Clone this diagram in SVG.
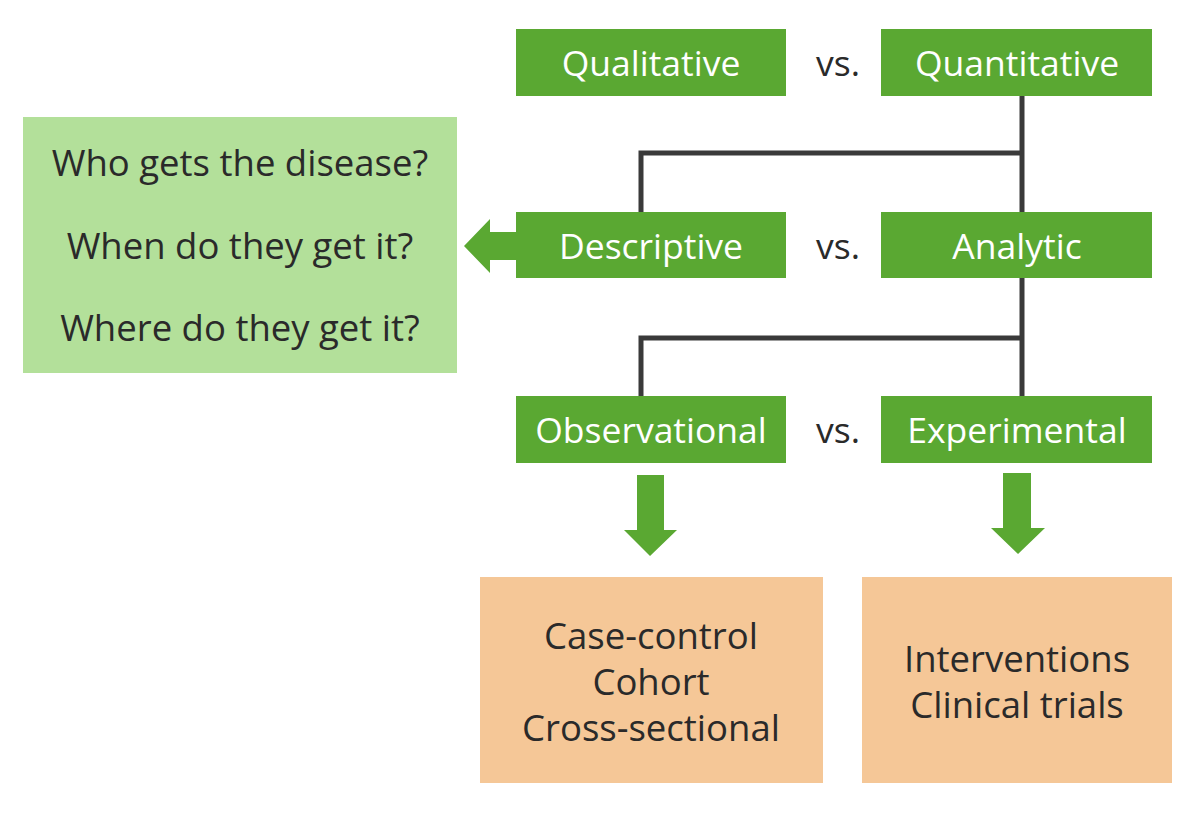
<svg xmlns="http://www.w3.org/2000/svg" width="1201" height="813" viewBox="0 0 1201 813">
<style>
.g{fill:#5aa832}
.lbl{font-family:"Open Sans",Lato,sans-serif;font-size:35.5px;fill:#fff;text-anchor:middle;dominant-baseline:central}
.vs{font-family:"Open Sans",Lato,sans-serif;font-size:35.5px;fill:#2a2a2a;text-anchor:middle;dominant-baseline:central}
.t{font-family:"Open Sans",Lato,sans-serif;font-size:36.5px;fill:#2a2a2a;text-anchor:middle;dominant-baseline:central}
.ln{fill:none;stroke:#3a3a3a;stroke-width:5}
</style>
<rect width="1201" height="813" fill="#fff"/>
<g id="connectors">
<path class="ln" d="M1022 96V212M1022 153H641V212"/>
<path class="ln" d="M1022 278V396M1022 338H641V396"/>
<path class="g" d="M516 232H490V219L464 246L490 273V260H516Z"/>
<path class="g" d="M637 475H664V530H677L650 556L624 530H637Z"/>
<path class="g" d="M1003 473H1031V528H1045L1018 554L991 528H1003Z"/>
</g>
<g id="qualitative"><rect class="g" x="516" y="29" width="270" height="67"/><text class="lbl" x="651" y="62">Qualitative</text></g>
<g id="vs1"><text class="vs" x="838" y="62">vs.</text></g>
<g id="quantitative"><rect class="g" x="881" y="29" width="271" height="67"/><text class="lbl" x="1017" y="62">Quantitative</text></g>
<g id="descriptive"><rect class="g" x="516" y="212" width="270" height="66"/><text class="lbl" x="651" y="245">Descriptive</text></g>
<g id="vs2"><text class="vs" x="838" y="245">vs.</text></g>
<g id="analytic"><rect class="g" x="881" y="212" width="271" height="66"/><text class="lbl" x="1017" y="245">Analytic</text></g>
<g id="observational"><rect class="g" x="516" y="396" width="270" height="67"/><text class="lbl" x="651" y="429">Observational</text></g>
<g id="vs3"><text class="vs" x="838" y="429">vs.</text></g>
<g id="experimental"><rect class="g" x="881" y="396" width="271" height="67"/><text class="lbl" x="1017" y="429">Experimental</text></g>
<g id="questions"><rect x="23" y="117" width="434" height="256" fill="#b3e09a"/>
<text class="t" x="240" y="162">Who gets the disease?</text>
<text class="t" x="240" y="245">When do they get it?</text>
<text class="t" x="240" y="327">Where do they get it?</text></g>
<g id="observational-types"><rect x="480" y="577" width="343" height="206" fill="#f5c797"/>
<text class="t" x="651" y="635">Case-control</text>
<text class="t" x="651" y="681">Cohort</text>
<text class="t" x="651" y="727">Cross-sectional</text></g>
<g id="experimental-types"><rect x="862" y="577" width="310" height="206" fill="#f5c797"/>
<text class="t" x="1017" y="658">Interventions</text>
<text class="t" x="1017" y="704">Clinical trials</text></g>
</svg>
